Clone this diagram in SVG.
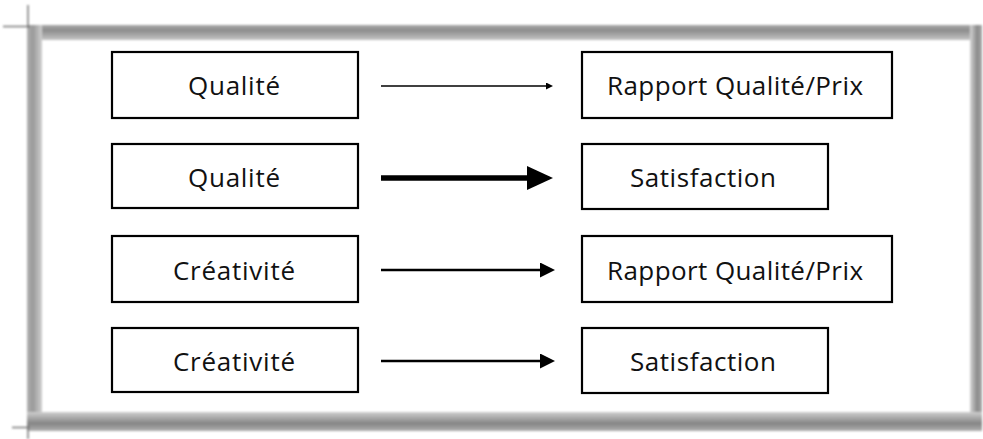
<svg xmlns="http://www.w3.org/2000/svg" width="983" height="439" viewBox="0 0 983 439">
<style>
.box{fill:#fff;stroke:#000;stroke-width:2.2}
.lbl{font-family:"Open Sans","DejaVu Sans",sans-serif;font-size:26px;fill:#111;text-anchor:middle}
.tick{stroke:#777;stroke-width:1.5}
</style>
<defs>
<linearGradient id="gTop" x1="0" y1="0" x2="0" y2="1"><stop offset="0" stop-color="#aaa"/><stop offset="0.35" stop-color="#8c8c8c"/><stop offset="1" stop-color="#c4c4c4"/></linearGradient>
<linearGradient id="gLeft" x1="0" y1="0" x2="1" y2="0"><stop offset="0" stop-color="#b0b0b0"/><stop offset="0.4" stop-color="#9a9a9a"/><stop offset="1" stop-color="#cfcfcf"/></linearGradient>
<linearGradient id="gRight" x1="0" y1="0" x2="1" y2="0"><stop offset="0" stop-color="#d4d4d4"/><stop offset="0.6" stop-color="#8a8a8a"/><stop offset="1" stop-color="#aaa"/></linearGradient>
<linearGradient id="gBot" x1="0" y1="0" x2="0" y2="1"><stop offset="0" stop-color="#cfcfcf"/><stop offset="0.6" stop-color="#858585"/><stop offset="1" stop-color="#b0b0b0"/></linearGradient>
<filter id="soft" x="-5%" y="-5%" width="110%" height="110%"><feGaussianBlur stdDeviation="0.8"/></filter>
<marker id="hThin" markerUnits="userSpaceOnUse" markerWidth="8" markerHeight="8" refX="0" refY="3.5" orient="auto"><path d="M0,0 L7,3.5 L0,7 z" fill="#000"/></marker>
<marker id="hBold" markerUnits="userSpaceOnUse" markerWidth="27" markerHeight="25" refX="0" refY="12" orient="auto"><path d="M0,0 L26,12 L0,24 z" fill="#000"/></marker>
<marker id="hMed" markerUnits="userSpaceOnUse" markerWidth="16" markerHeight="16" refX="0" refY="7.5" orient="auto"><path d="M0,0 L15,7.5 L0,15 z" fill="#000"/></marker>
</defs>

<g id="frame" filter="url(#soft)">
<rect x="28" y="25" width="954" height="15" fill="url(#gTop)"/>
<rect x="27" y="25" width="15" height="405" fill="url(#gLeft)"/>
<rect x="970" y="25" width="12" height="405" fill="url(#gRight)"/>
<rect x="27" y="412" width="955" height="19" fill="url(#gBot)"/>
<line class="tick" x1="28" y1="5" x2="28" y2="28"/>
<line class="tick" x1="3" y1="26.5" x2="30" y2="26.5"/>
<line class="tick" x1="12" y1="427.5" x2="30" y2="427.5"/>
<line class="tick" x1="28" y1="425" x2="28" y2="439"/>
</g>

<g id="n1"><rect class="box" x="112" y="52" width="246" height="66"/><text class="lbl" x="234" y="95" textLength="92" lengthAdjust="spacing">Qualité</text></g>
<g id="n2"><rect class="box" x="112" y="144" width="246" height="64"/><text class="lbl" x="234" y="187" textLength="92" lengthAdjust="spacing">Qualité</text></g>
<g id="n3"><rect class="box" x="112" y="236" width="246" height="66"/><text class="lbl" x="234" y="279.5" textLength="122" lengthAdjust="spacing">Créativité</text></g>
<g id="n4"><rect class="box" x="112" y="328" width="246" height="64"/><text class="lbl" x="234" y="370.5" textLength="122" lengthAdjust="spacing">Créativité</text></g>

<g id="n5"><rect class="box" x="582" y="52" width="310" height="66"/><text class="lbl" x="735" y="95" textLength="256" lengthAdjust="spacing">Rapport Qualité/Prix</text></g>
<g id="n6"><rect class="box" x="582" y="144" width="246" height="65"/><text class="lbl" x="703" y="187" textLength="146" lengthAdjust="spacing">Satisfaction</text></g>
<g id="n7"><rect class="box" x="582" y="236" width="310" height="66"/><text class="lbl" x="735" y="279.5" textLength="256" lengthAdjust="spacing">Rapport Qualité/Prix</text></g>
<g id="n8"><rect class="box" x="582" y="328" width="246" height="65"/><text class="lbl" x="703" y="370.5" textLength="146" lengthAdjust="spacing">Satisfaction</text></g>

<g id="connectors" stroke="#000" fill="none">
<path d="M381,86 H546" stroke-width="1.3" marker-end="url(#hThin)"/>
<path d="M381,178 H527" stroke-width="5.5" marker-end="url(#hBold)"/>
<path d="M381,270 H540" stroke-width="2.6" marker-end="url(#hMed)"/>
<path d="M381,361 H540" stroke-width="2.6" marker-end="url(#hMed)"/>
</g>
</svg>
